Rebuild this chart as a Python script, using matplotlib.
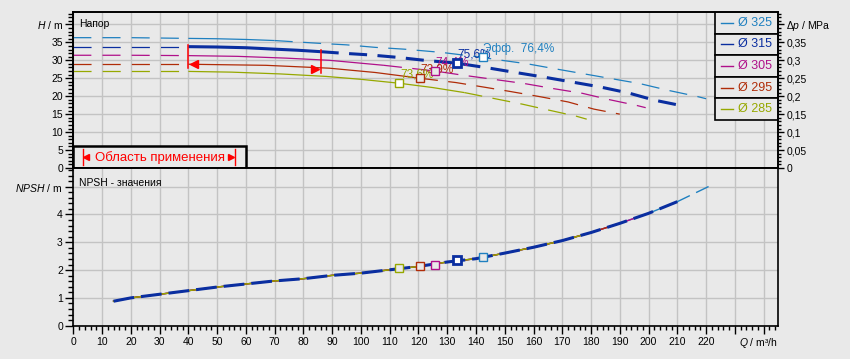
import numpy as np
import matplotlib
matplotlib.use('Agg')
import matplotlib.pyplot as plt
from matplotlib.patches import Rectangle
from matplotlib.ticker import MultipleLocator

plt.rcParams['font.family'] = ['Liberation Sans', 'DejaVu Sans']
plt.rcParams['mathtext.fontset'] = 'custom'
plt.rcParams['mathtext.it'] = 'Liberation Sans:italic'
plt.rcParams['mathtext.rm'] = 'Liberation Sans'
plt.rcParams['lines.scale_dashes'] = False

# impeller diameters and their head curves Q [m3/h] -> H [m]
diameters = [325, 315, 305, 295, 285]

q_325 = [0, 20, 40, 50, 60, 70, 76, 86, 95, 105, 115, 128, 142.3, 148, 158, 167, 177, 187, 197, 207, 217, 220]
h_325 = [36.3, 36.3, 36.1, 36.0, 35.8, 35.5, 35.2, 34.7, 34.3, 33.6, 33.1, 32.2, 30.8, 30.1, 29.0, 27.7, 26.3, 24.9, 23.5, 21.6, 19.9, 19.3]

q_315 = [0, 20, 40, 50, 60, 70, 78, 86, 93, 103, 113, 122, 133.3, 144, 153, 163, 173, 183, 193, 202, 210]
h_315 = [33.8, 33.8, 33.8, 33.7, 33.5, 33.1, 32.8, 32.4, 32.0, 31.5, 30.8, 30.0, 29.2, 27.9, 26.7, 25.4, 24.0, 22.6, 20.9, 18.9, 17.6]

q_305 = [0, 20, 40, 57, 74, 89, 108, 125.8, 135, 147, 157, 167, 177, 186, 196, 199]
h_305 = [31.4, 31.4, 31.3, 31.1, 30.6, 30.0, 28.6, 27.0, 25.9, 24.6, 23.5, 22.1, 20.8, 19.1, 17.4, 16.8]

q_295 = [0, 20, 40, 67, 89, 105, 120.5, 133, 143, 152, 162, 172, 181, 190]
h_295 = [28.9, 28.9, 28.9, 28.6, 27.8, 26.6, 25.0, 23.8, 22.5, 21.3, 19.9, 18.4, 16.4, 15.0]

q_285 = [0, 20, 40, 55, 72, 88, 100, 113.4, 125, 136, 146, 156, 166, 175, 178.5]
h_285 = [26.9, 26.9, 26.9, 26.7, 26.2, 25.5, 24.7, 23.6, 22.4, 21.0, 19.4, 17.8, 16.0, 14.4, 13.6]

# best efficiency points
q_bep = [142.3, 133.3, 125.8, 120.5, 113.4]
h_bep = [30.8, 29.2, 27.0, 25.0, 23.6]
npsh_bep = [2.46, 2.35, 2.2, 2.13, 2.07]
eff_text = ['Эфф.  76,4%', '75,6%', '74,4%', '73,9%', '73,6%']

# NPSH curve
npsh_q = [14, 20, 30, 40, 50, 60, 70, 80, 90, 100, 110, 120, 130, 140, 150, 160, 170, 180, 190, 200, 210, 220, 222.5]
npsh_v = [0.88, 1.0, 1.13, 1.26, 1.39, 1.5, 1.61, 1.69, 1.81, 1.89, 2.01, 2.13, 2.29, 2.41, 2.61, 2.82, 3.06, 3.35, 3.68, 4.04, 4.46, 4.96, 5.09]
npsh_end = [222.5, 210, 200, 190, 180]

# application range
app_q = [40, 86]
app_h_low = [27.8, 26.4]
app_h_high = [34.3, 32.9]
arrow_q = [42, 84.1]
arrow_h = [28.9, 27.5]

dp_ticks = [0, 0.05, 0.1, 0.15, 0.2, 0.25, 0.3, 0.35]

heads = {325: (q_325, h_325), 315: (q_315, h_315), 305: (q_305, h_305),
         295: (q_295, h_295), 285: (q_285, h_285)}
colors = {325: '#1f80c0', 315: '#0a2ea0', 305: '#b0108a', 295: '#b02c08', 285: '#96a800'}
solid_to = {325: 70, 315: 86, 305: 108, 295: 120.5, 285: 136}

bg = '#e9e9e9'
grid_c = '#c3c3c3'

fig = plt.figure(figsize=(8.5, 3.59), dpi=100, facecolor=bg)
W, H = 850.0, 359.0
ax1 = fig.add_axes([73.3 / W, 1 - 168 / H, 704.7 / W, 156 / H], facecolor=bg)
ax2 = fig.add_axes([73.3 / W, 1 - 325.7 / H, 704.7 / W, 157.7 / H], facecolor=bg)

for ax in (ax1, ax2):
    ax.set_xlim(0, 245)
    ax.xaxis.set_major_locator(MultipleLocator(10))
    ax.grid(True, color=grid_c, lw=1.0)
    ax.set_axisbelow(True)
    for s in ax.spines.values():
        s.set_color('black')
        s.set_linewidth(1.2)
    ax.tick_params(labelsize=7.5, colors='black')

# ---- head panel
ax1.set_ylim(0, 43.45)
ax1.set_yticks(range(0, 41, 5))
ax1.set_yticklabels([str(v) for v in range(0, 36, 5)] + [r'$\mathit{H}$ / m'])
ax1.yaxis.set_minor_locator(MultipleLocator(1))
ax1.tick_params(axis='y', which='major', direction='out', length=5.5, width=1, pad=2)
ax1.tick_params(axis='y', which='minor', direction='out', length=3.5, width=1)
ax1.tick_params(axis='x', which='both', bottom=False, labelbottom=False)

order = [325, 305, 295, 285, 315]
for d in order:
    q, h = np.array(heads[d][0]), np.array(heads[d][1])
    c = colors[d]
    lw_main = 2.2 if d == 315 else 0.9
    pre = q <= app_q[0]
    mid = (q >= app_q[0]) & (q <= solid_to[d])
    post = q >= solid_to[d]
    ax1.plot(q[pre], h[pre], color=c, lw=0.9, dashes=(13, 8), zorder=3)
    ax1.plot(q[mid], h[mid], color=c, lw=lw_main, zorder=3, solid_capstyle='butt')
    ax1.plot(q[post], h[post], color=c, lw=lw_main, dashes=(13, 7.5), zorder=3,
             dash_capstyle='butt')

# application range markers
for i in range(2):
    ax1.plot([app_q[i], app_q[i]], [app_h_low[i], app_h_high[i]], color='red', lw=1.1, zorder=4)
ax1.plot(arrow_q[0], arrow_h[0], marker='<', ms=6, color='red', zorder=4)
ax1.plot(arrow_q[1], arrow_h[1], marker='>', ms=6, color='red', zorder=4)

for i, d in enumerate(diameters):
    c = colors[d]
    ax1.annotate(eff_text[i], (q_bep[i], h_bep[i]), xytext=(0.5, 6.2), textcoords='offset points',
                 ha='left', va='center', color=c, fontsize=8.5, zorder=5)
for i, d in enumerate(diameters):
    c = colors[d]
    ax1.plot(q_bep[i], h_bep[i], 's', ms=5.8, mfc='white' if d in (315, 285, 325) else bg,
             mec=c, mew=2.0 if d == 315 else 1.0, zorder=6)

ax1.text(0.0085, 0.921, 'Напор', transform=ax1.transAxes, fontsize=7.5,
         ha='left', va='center', color='black')

# application range box
ax1.add_patch(Rectangle((0, 0), 0.245, 0.141, transform=ax1.transAxes, facecolor=bg,
                        edgecolor='black', lw=1.8, zorder=8, clip_on=False))
ax1.text(0.1225, 0.07, 'Область применения', transform=ax1.transAxes, fontsize=9.5,
         color='red', ha='center', va='center', zorder=9)
for xb in (0.0133, 0.2295):
    ax1.plot([xb, xb], [0.02, 0.125], transform=ax1.transAxes, color='red', lw=1, zorder=9)
ax1.plot(0.0185, 0.07, marker='<', ms=4, color='red', transform=ax1.transAxes, zorder=9)
ax1.plot(0.2235, 0.07, marker='>', ms=4, color='red', transform=ax1.transAxes, zorder=9)

# legend boxes
row_h = 0.1385
for i, d in enumerate(diameters):
    c = colors[d]
    y0 = 1 - (i + 1) * row_h
    ax1.add_patch(Rectangle((0.9106, y0), 0.0894, row_h, transform=ax1.transAxes,
                            facecolor=bg, edgecolor='black', lw=1.2, zorder=8))
    ax1.plot([0.9195, 0.9365], [y0 + row_h / 2] * 2, transform=ax1.transAxes,
             color=c, lw=1.0, zorder=9)
    ax1.text(0.9435, y0 + row_h / 2, 'Ø %d' % d, transform=ax1.transAxes, color=c,
             fontsize=9, ha='left', va='center', zorder=9)

# pressure axis
ax1r = ax1.twinx()
ax1r.set_ylim(0, 0.4345)
ax1r.set_yticks(dp_ticks + [0.4])
ax1r.set_yticklabels(['{:g}'.format(v).replace('.', ',') for v in dp_ticks]
                     + [r'$\mathit{Δp}$ / MPa'])
ax1r.yaxis.set_minor_locator(MultipleLocator(0.01))
ax1r.tick_params(axis='y', which='major', direction='out', length=4, width=1, pad=2, labelsize=7.5)
ax1r.tick_params(axis='y', which='minor', direction='out', length=2.4, width=1)
for s in ax1r.spines.values():
    s.set_color('black')
    s.set_linewidth(1.2)

# ---- NPSH panel
ax2.set_ylim(0, 5.67)
ax2.set_yticks(range(0, 6))
ax2.set_yticklabels([str(v) for v in range(0, 5)] + [r'$\mathit{NPSH}$ / m'])
ax2.yaxis.set_minor_locator(MultipleLocator(0.2))
ax2.tick_params(axis='y', which='major', direction='out', length=5.5, width=1, pad=2)
ax2.tick_params(axis='y', which='minor', direction='out', length=3.5, width=1)
xt = list(range(0, 241, 10))
ax2.set_xticks(xt)
ax2.set_xticklabels([str(v) if v <= 220 else '' for v in xt])
ax2.xaxis.set_minor_locator(MultipleLocator(2))
ax2.tick_params(axis='x', which='major', direction='out', length=5.5, width=1, pad=2.5)
ax2.tick_params(axis='x', which='minor', direction='out', length=3, width=1)

nq = np.array(npsh_q)
nv = np.array(npsh_v)
for d in [325, 305, 295, 285]:
    end = npsh_end[diameters.index(d)]
    c = colors[d]
    if d == 325:
        m = nq <= 210
        ax2.plot(nq[m], nv[m], color=c, lw=1.0, zorder=3)
        m = nq >= 210
        ax2.plot(nq[m], nv[m], color=c, lw=1.0, dashes=(10, 5), zorder=3)
    else:
        m = nq <= end
        ax2.plot(nq[m], nv[m], color=c, lw=1.0, zorder=3)
m = nq <= npsh_end[1]
ax2.plot(nq[m], nv[m], color=colors[315], lw=2.2, dashes=(15, 5), zorder=4,
         dash_capstyle='butt')

for i, d in enumerate(diameters):
    c = colors[d]
    ax2.plot(q_bep[i], npsh_bep[i], 's', ms=5.8, mfc='white' if d == 315 else bg,
             mec=c, mew=2.0 if d == 315 else 1.0, zorder=6)

ax2.text(0.0085, 0.907, 'NPSH - значения', transform=ax2.transAxes, fontsize=7.5,
         ha='left', va='center', color='black')

fig.text(778 / W, 1 - 343.3 / H, r'$\mathit{Q}$ / m³/h', ha='right', va='center', fontsize=7.5)

fig.savefig('out.png', dpi=100, facecolor=bg)
